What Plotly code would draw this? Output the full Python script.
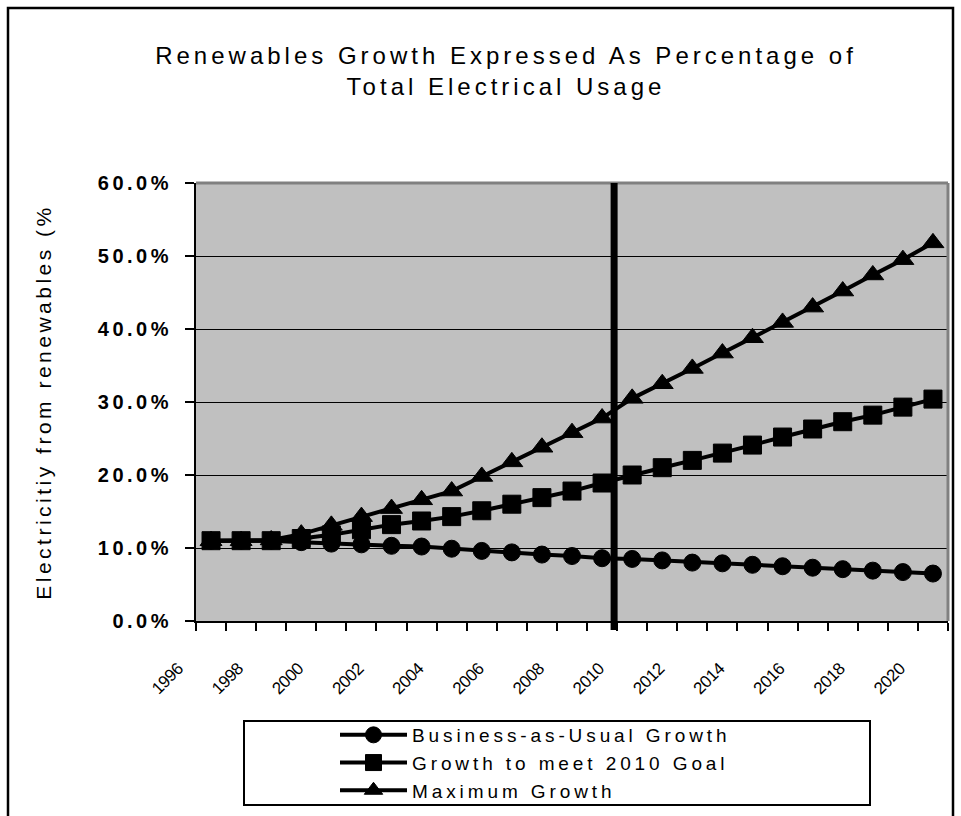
import plotly.graph_objects as go

# ---- data -------------------------------------------------------------
years = list(range(1996, 2021))

business_as_usual = [11.0, 11.0, 11.0, 10.8, 10.6, 10.5, 10.3, 10.2, 9.9, 9.6,
                     9.4, 9.1, 8.9, 8.6, 8.5, 8.3, 8.0, 7.9, 7.7, 7.5,
                     7.3, 7.1, 6.9, 6.7, 6.5]
goal_2010 = [11.0, 11.0, 11.0, 11.3, 11.8, 12.5, 13.2, 13.7, 14.3, 15.1,
             16.0, 16.9, 17.8, 18.9, 20.0, 21.0, 22.0, 23.0, 24.1, 25.2,
             26.3, 27.3, 28.2, 29.3, 30.4]
maximum = [11.0, 11.0, 11.1, 11.9, 13.1, 14.3, 15.4, 16.6, 17.8, 19.8,
           21.8, 23.8, 25.8, 27.8, 30.5, 32.5, 34.6, 36.7, 38.8, 40.9,
           43.0, 45.2, 47.4, 49.5, 51.8]

series_names = ["Business-as-Usual Growth", "Growth to meet 2010 Goal", "Maximum Growth"]
y_ticks = [0, 10, 20, 30, 40, 50, 60]
x_tick_years = years[::2]
x_tick_text = [str(y) for y in x_tick_years]

# ---- layout geometry (pixels) -----------------------------------------
W, H = 961, 816
PL, PR, PT, PB = 196, 948, 183, 621          # plot area edges
FONT = "Liberation Sans, Arial, sans-serif"


def px_x(p):
    return (p - PL) / (PR - PL)


def px_y(p):
    return (PB - p) / (PB - PT)


def spaced(text, px):
    """Wrap text in a span with extra letter spacing."""
    return f'<span style="letter-spacing:{px}px">{text}</span>'


fig = go.Figure()

symbols = ["circle", "square", "triangle-up"]
sizes = [17, 18, 19]
for name, vals, sym, sz in zip(series_names, [business_as_usual, goal_2010, maximum], symbols, sizes):
    fig.add_trace(go.Scatter(
        x=years, y=vals, name=spaced(name, 3.9), mode="lines+markers",
        line=dict(color="black", width=4),
        marker=dict(symbol=sym, size=sz, color="black", line=dict(color="black", width=1)),
        cliponaxis=False,
    ))

shapes = [
    # outer chart frame
    dict(type="rect", xref="paper", yref="paper",
         x0=px_x(8), x1=px_x(953), y0=px_y(840), y1=px_y(8),
         line=dict(color="black", width=2.5), layer="below"),
    # grey top/right edges of the plot area
    dict(type="line", xref="paper", yref="paper", x0=0, x1=1, y0=1, y1=1,
         line=dict(color="#808080", width=3), layer="above"),
    dict(type="line", xref="paper", yref="paper", x0=1, x1=1, y0=0, y1=1,
         line=dict(color="#808080", width=3), layer="above"),
    # 2010 goal marker line
    dict(type="line", xref="x", yref="paper", x0=2009.4, x1=2009.4,
         y0=px_y(630), y1=1, line=dict(color="black", width=7), layer="above"),
    # legend box
    dict(type="rect", xref="paper", yref="paper",
         x0=px_x(244), x1=px_x(870), y0=px_y(805), y1=px_y(721),
         line=dict(color="black", width=2), layer="above"),
]

fig.update_layout(
    width=W, height=H,
    margin=dict(l=PL, r=W - PR, t=PT, b=H - PB, autoexpand=False),
    paper_bgcolor="white",
    plot_bgcolor="#C0C0C0",
    font=dict(family=FONT, color="black"),
    title=dict(
        text=spaced("Renewables Growth Expressed As Percentage of", 4)
        + "<br>" + spaced("Total Electrical Usage", 4),
        x=506 / W, xanchor="center", xref="container",
        y=1 - 64 / H, yanchor="middle", yref="container",
        font=dict(size=24, family=FONT, color="black"),
    ),
    showlegend=True,
    legend=dict(
        x=px_x(335), xanchor="left", y=px_y(716), yanchor="top",
        bgcolor="rgba(0,0,0,0)", borderwidth=0,
        font=dict(size=19, family=FONT, color="black"),
        itemwidth=67, tracegroupgap=0,
    ),
    shapes=shapes,
)

fig.update_xaxes(
    range=[years[0] - 0.5, years[-1] + 0.5],
    tickmode="array",
    tickvals=x_tick_years,
    ticktext=[spaced(t, -0.5) for t in x_tick_text],
    tickangle=-45,
    ticks="",
    ticklabelstandoff=29,
    ticklabelshift=-33,
    tickfont=dict(size=17, family=FONT, color="black"),
    showgrid=False, zeroline=False,
    showline=True, linecolor="black", linewidth=2,
    minor=dict(ticks="outside", ticklen=8, tickwidth=2, tickcolor="black",
               tickmode="array",
               tickvals=[y - 0.5 for y in years] + [years[-1] + 0.5],
               showgrid=False),
)

fig.update_yaxes(
    range=[0, 60],
    tickmode="array",
    tickvals=y_ticks,
    ticktext=[spaced(f"{v:.1f}%", 3.5) for v in y_ticks],
    ticks="outside", ticklen=9, tickwidth=2, tickcolor="black",
    ticklabelstandoff=9,
    tickfont=dict(size=20, family=FONT, color="black", weight="bold"),
    showgrid=True, gridcolor="black", gridwidth=1,
    zeroline=False,
    showline=True, linecolor="black", linewidth=2,
    title=dict(text=spaced("Electricitiy from renewables (%", 3.5),
               font=dict(size=21, family=FONT, color="black"),
               standoff=40),
)

fig.write_html("out.html")
